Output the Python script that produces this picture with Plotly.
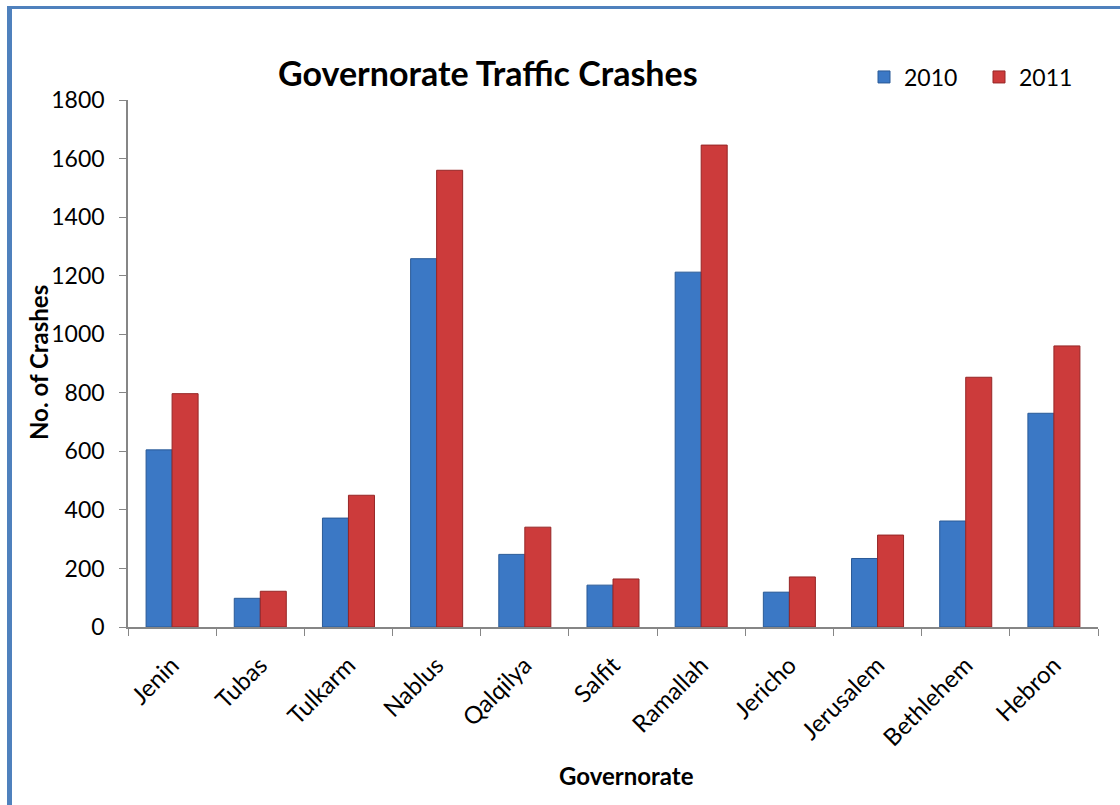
import plotly.graph_objects as go

governorates = ["Jenin", "Tubas", "Tulkarm", "Nablus", "Qalqilya", "Salfit",
                "Ramallah", "Jericho", "Jerusalem", "Bethlehem", "Hebron"]
crashes_2010 = [605, 98, 372, 1258, 248, 143, 1212, 119, 234, 362, 730]
crashes_2011 = [797, 122, 450, 1560, 341, 164, 1646, 171, 314, 853, 960]
y_ticks = [0, 200, 400, 600, 800, 1000, 1200, 1400, 1600, 1800]

FONT = "Lato"
W, H = 1120, 805
L, R, T, B = 128, 22, 100, 178
pw, ph = W - L - R, H - T - B

def px_x(px):
    return (px - L) / pw

def px_y(py):
    return (H - B - py) / ph

fig = go.Figure()
fig.add_trace(go.Bar(name="2010", x=governorates, y=crashes_2010,
                     marker=dict(color="#3B78C5", line=dict(color="#2A5A97", width=1))))
fig.add_trace(go.Bar(name="2011", x=governorates, y=crashes_2011,
                     marker=dict(color="#CC3B3B", line=dict(color="#962626", width=1))))

fig.update_layout(
    width=W, height=H,
    margin=dict(l=L, r=R, t=T, b=B),
    paper_bgcolor="white", plot_bgcolor="white",
    barmode="group", bargap=0.41, bargroupgap=0,
    font=dict(family=FONT, color="black"),
    showlegend=True,
    legend=dict(orientation="h", x=px_x(864), y=px_y(77), xanchor="left", yanchor="middle",
                font=dict(size=23, family=FONT), entrywidth=70, bgcolor="rgba(0,0,0,0)"),
)
fig.update_xaxes(showline=True, linecolor="#868686", linewidth=1.5,
                 ticks="outside", tickson="boundaries", ticklen=7, tickcolor="#868686",
                 tickangle=-45, tickfont=dict(size=24, family=FONT), showgrid=False,
                 ticklabelstandoff=13)
fig.update_yaxes(range=[0, 1800], tickvals=y_ticks, showline=True, linecolor="#868686",
                 linewidth=1.5, ticks="outside", ticklen=7, tickcolor="#868686",
                 tickfont=dict(size=23, family=FONT), showgrid=False, zeroline=False,
                 ticklabelstandoff=10)

fig.add_annotation(text="<b>Governorate Traffic Crashes</b>", xref="paper", yref="paper",
                   x=px_x(488), y=px_y(73), xanchor="center", yanchor="middle",
                   showarrow=False, font=dict(size=34, family=FONT))
fig.add_annotation(text="<b>No. of Crashes</b>", xref="paper", yref="paper",
                   x=px_x(38), y=px_y(363), xanchor="center", yanchor="middle",
                   showarrow=False, textangle=-90, font=dict(size=24, family=FONT))
fig.add_annotation(text="<b>Governorate</b>", xref="paper", yref="paper",
                   x=px_x(626), y=px_y(775), xanchor="center", yanchor="middle",
                   showarrow=False, font=dict(size=24, family=FONT))

# chart frame (left and top edges visible)
fig.add_shape(type="line", xref="paper", yref="paper", x0=px_x(9.5), x1=px_x(9.5),
              y0=px_y(6), y1=px_y(830), line=dict(color="#4F81BD", width=5))
fig.add_shape(type="line", xref="paper", yref="paper", x0=px_x(7), x1=px_x(1130),
              y0=px_y(7.5), y1=px_y(7.5), line=dict(color="#4F81BD", width=3))

fig.write_html("out.html", config={"displayModeBar": False},
               post_script="document.body.style.margin='0';")
